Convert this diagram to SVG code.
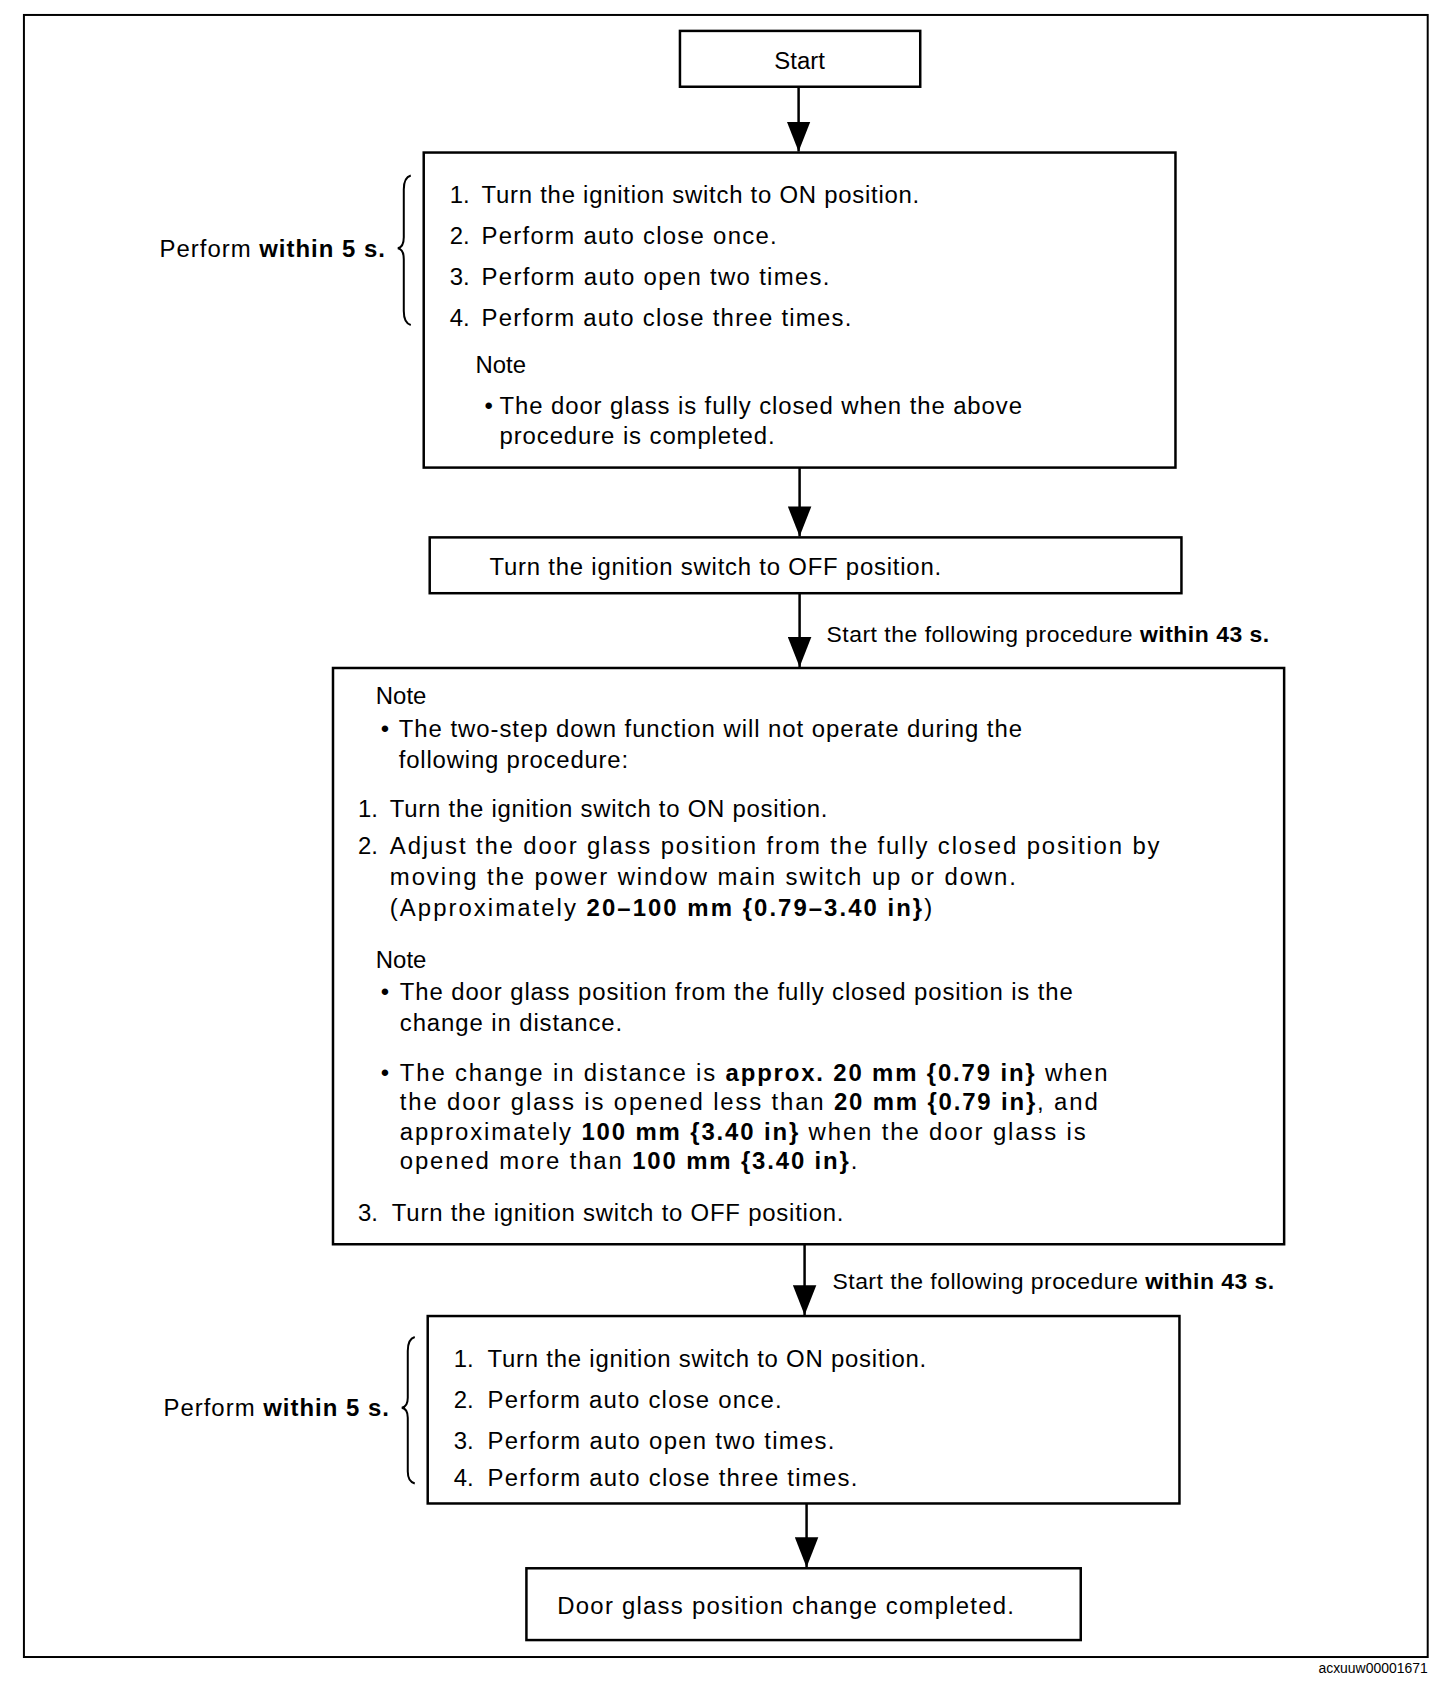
<svg xmlns="http://www.w3.org/2000/svg" width="1456" height="1684" viewBox="0 0 1456 1684">
<style>
.box{fill:#fff;stroke:#000;stroke-width:2.5}
.t{font-family:"Liberation Sans",Arial,sans-serif;font-size:24px;fill:#000}
.lbl{font-family:"Liberation Sans",Arial,sans-serif;font-size:23px;fill:#000}
.b{font-weight:bold}
.con{stroke:#000;stroke-width:2.5;fill:none}
.brace{stroke:#000;stroke-width:2;fill:none}
</style>
<defs>
<marker id="ah" markerUnits="userSpaceOnUse" markerWidth="30" markerHeight="24" refX="28" refY="11" orient="auto" viewBox="0 0 28 22">
<path d="M0,0 L28,11 L0,22 Z" fill="#000"/>
</marker>
</defs>
<rect x="0" y="0" width="1456" height="1684" fill="#fff"/>
<g transform="scale(0.997)">
<rect x="24" y="15" width="1408" height="1647" fill="none" stroke="#000" stroke-width="2"/>

<g id="connectors">
<line class="con" x1="801" y1="87" x2="801" y2="152" marker-end="url(#ah)"/>
<line class="con" x1="802" y1="469" x2="802" y2="538" marker-end="url(#ah)"/>
<line class="con" x1="802" y1="595" x2="802" y2="669" marker-end="url(#ah)"/>
<line class="con" x1="807" y1="1248" x2="807" y2="1319" marker-end="url(#ah)"/>
<line class="con" x1="809" y1="1508" x2="809" y2="1572" marker-end="url(#ah)"/>
<text class="lbl" x="829" y="644" textLength="444" lengthAdjust="spacing">Start the following procedure <tspan class="b">within 43 s.</tspan></text>
<text class="lbl" x="835" y="1293" textLength="443" lengthAdjust="spacing">Start the following procedure <tspan class="b">within 43 s.</tspan></text>
</g>

<g id="start">
<rect class="box" x="682" y="31" width="241" height="56"/>
<text class="t" x="802" y="69" text-anchor="middle">Start</text>
</g>

<g id="step1">
<rect class="box" x="425" y="153" width="754" height="316"/>
<text class="t" x="451" y="204">1.</text><text class="t" x="483" y="204" textLength="439" lengthAdjust="spacing">Turn the ignition switch to ON position.</text>
<text class="t" x="451" y="245">2.</text><text class="t" x="483" y="245" textLength="296" lengthAdjust="spacing">Perform auto close once.</text>
<text class="t" x="451" y="286">3.</text><text class="t" x="483" y="286" textLength="349" lengthAdjust="spacing">Perform auto open two times.</text>
<text class="t" x="451" y="327">4.</text><text class="t" x="483" y="327" textLength="371" lengthAdjust="spacing">Perform auto close three times.</text>
<text class="t" x="477" y="374">Note</text>
<text class="t" x="486" y="415">•</text><text class="t" x="501" y="415" textLength="524" lengthAdjust="spacing">The door glass is fully closed when the above</text>
<text class="t" x="501" y="445" textLength="276" lengthAdjust="spacing">procedure is completed.</text>
</g>

<g id="brace1">
<path class="brace" d="M412,176 Q405,178 405,190 L405,238 Q405,248 399,249 Q405,250 405,260 L405,312 Q405,324 412,326"/>
<text class="t" x="160" y="258" textLength="226" lengthAdjust="spacing">Perform <tspan class="b">within 5 s.</tspan></text>
</g>

<g id="step2">
<rect class="box" x="431" y="539" width="754" height="56"/>
<text class="t" x="491" y="577" textLength="453" lengthAdjust="spacing">Turn the ignition switch to OFF position.</text>
</g>

<g id="step3">
<rect class="box" x="334" y="670" width="954" height="578"/>
<text class="t" x="377" y="706">Note</text>
<text class="t" x="382" y="739">•</text><text class="t" x="400" y="739" textLength="625" lengthAdjust="spacing">The two-step down function will not operate during the</text>
<text class="t" x="400" y="770" textLength="230" lengthAdjust="spacing">following procedure:</text>
<text class="t" x="359" y="819">1.</text><text class="t" x="391" y="819" textLength="439" lengthAdjust="spacing">Turn the ignition switch to ON position.</text>
<text class="t" x="359" y="857">2.</text><text class="t" x="391" y="857" textLength="772" lengthAdjust="spacing">Adjust the door glass position from the fully closed position by</text>
<text class="t" x="391" y="888" textLength="628" lengthAdjust="spacing">moving the power window main switch up or down.</text>
<text class="t" x="391" y="919" textLength="544" lengthAdjust="spacing">(Approximately <tspan class="b">20–100 mm {0.79–3.40 in}</tspan>)</text>
<text class="t" x="377" y="971">Note</text>
<text class="t" x="382" y="1003">•</text><text class="t" x="401" y="1003" textLength="675" lengthAdjust="spacing">The door glass position from the fully closed position is the</text>
<text class="t" x="401" y="1034" textLength="223" lengthAdjust="spacing">change in distance.</text>
<text class="t" x="382" y="1084">•</text><text class="t" x="401" y="1084" textLength="710" lengthAdjust="spacing">The change in distance is <tspan class="b">approx. 20 mm {0.79 in}</tspan> when</text>
<text class="t" x="401" y="1113" textLength="700" lengthAdjust="spacing">the door glass is opened less than <tspan class="b">20 mm {0.79 in}</tspan>, and</text>
<text class="t" x="401" y="1143" textLength="688" lengthAdjust="spacing">approximately <tspan class="b">100 mm {3.40 in}</tspan> when the door glass is</text>
<text class="t" x="401" y="1173" textLength="459" lengthAdjust="spacing">opened more than <tspan class="b">100 mm {3.40 in}</tspan>.</text>
<text class="t" x="359" y="1225">3.</text><text class="t" x="393" y="1225" textLength="453" lengthAdjust="spacing">Turn the ignition switch to OFF position.</text>
</g>

<g id="step4">
<rect class="box" x="429" y="1320" width="754" height="188"/>
<text class="t" x="455" y="1371">1.</text><text class="t" x="489" y="1371" textLength="440" lengthAdjust="spacing">Turn the ignition switch to ON position.</text>
<text class="t" x="455" y="1412">2.</text><text class="t" x="489" y="1412" textLength="295" lengthAdjust="spacing">Perform auto close once.</text>
<text class="t" x="455" y="1453">3.</text><text class="t" x="489" y="1453" textLength="348" lengthAdjust="spacing">Perform auto open two times.</text>
<text class="t" x="455" y="1490">4.</text><text class="t" x="489" y="1490" textLength="371" lengthAdjust="spacing">Perform auto close three times.</text>
</g>

<g id="brace2">
<path class="brace" d="M416,1341 Q409,1343 409,1355 L409,1402 Q409,1411 403,1412 Q409,1413 409,1422 L409,1476 Q409,1486 416,1488"/>
<text class="t" x="164" y="1420" textLength="226" lengthAdjust="spacing">Perform <tspan class="b">within 5 s.</tspan></text>
</g>

<g id="end">
<rect class="box" x="528" y="1573" width="556" height="72"/>
<text class="t" x="559" y="1619" textLength="458" lengthAdjust="spacing">Door glass position change completed.</text>
</g>

<text x="1432" y="1678" text-anchor="end" font-family="Liberation Sans, Arial, sans-serif" font-size="14">acxuuw00001671</text>
</g>
</svg>
